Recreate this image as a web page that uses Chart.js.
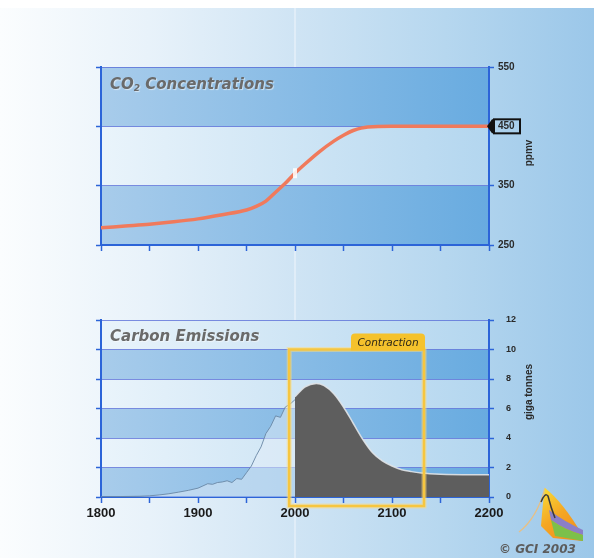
<!DOCTYPE html>
<html>
<head>
<meta charset="utf-8">
<script src="https://cdn.jsdelivr.net/npm/chart.js@4.4.1/dist/chart.umd.min.js"></script>
<style>
  html, body { margin: 0; padding: 0; background: #fff; }
  #wrap { position: relative; width: 603px; height: 558px; overflow: hidden; }
  #bg { position: absolute; left: 0; top: 8px; width: 594px; height: 550px;
        background: linear-gradient(to right, #fbfdfe 0%, #e8f2fa 25%, #cfe4f4 50%, #b6d7ef 75%, #9bc7e9 100%); }
  canvas.chart { position: absolute; left: 0; top: 0; }
  #line2000 { position: absolute; top: 8px; width: 2px; height: 550px; background: rgba(255,255,255,0.35); }
  .title { position: absolute; font-family: "DejaVu Sans", sans-serif; font-weight: bold; font-style: oblique;
           font-size: 15px; color: #6a6a6a; text-shadow: 1px 1px 1px rgba(255,255,255,0.55); white-space: nowrap; }
  .title sub { font-size: 9px; vertical-align: -2px; }
  .axt { position: absolute; font-family: "Liberation Sans", Arial, sans-serif; font-weight: bold; font-size: 10px;
         color: #2a2a2a; white-space: nowrap; transform: translate(-50%, -50%) rotate(-90deg); }
  #contraction { position: absolute; font-family: "DejaVu Sans", sans-serif; font-style: oblique; font-size: 10.5px;
                 color: #2e2818; white-space: nowrap; transform: translate(-50%, -50%); }
  #copy { position: absolute; left: 499px; top: 542px; font-family: "DejaVu Sans", sans-serif; font-weight: bold;
          font-style: oblique; font-size: 12px; color: #5c5c5c; white-space: nowrap; }
  #logo { position: absolute; left: 515px; top: 480px; }
</style>
</head>
<body>
<div id="wrap">
  <div id="bg"></div>
  <div id="line2000"></div>
  <canvas id="co2Chart" class="chart" width="603" height="558"></canvas>
  <canvas id="emChart" class="chart" width="603" height="558"></canvas>
  <div class="title" style="left:110px; top:75px;">CO<sub>2</sub> Concentrations</div>
  <div class="title" style="left:110px; top:327px;">Carbon Emissions</div>
  <div class="axt" style="left:528px; top:153px;">ppmv</div>
  <div class="axt" style="left:528px; top:392px;">giga tonnes</div>
  <div id="contraction">Contraction</div>
  <canvas id="logo" width="75" height="62"></canvas>
  <div id="copy">© GCI 2003</div>
</div>
<script>
// data
const co2Years  = [1800, 1825, 1850, 1875, 1900, 1925, 1950, 1960, 1970, 1980, 1990, 2000, 2010, 2025, 2040, 2050, 2060, 2075, 2100, 2150, 2200]
const co2Values = [279, 282, 285, 289, 294, 301, 309, 315, 324, 339, 354, 371, 386, 407, 425, 435, 443, 449, 450, 450, 450]
const co2Ticks  = [250, 350, 450, 550]
const co2Marker = 450

const histYears  = [1800, 1820, 1840, 1850, 1860, 1870, 1880, 1890, 1900, 1905, 1910, 1915, 1920, 1925, 1930, 1935, 1940, 1945, 1950, 1955, 1960, 1965, 1970, 1975, 1980, 1985, 1990, 1995, 2000]
const histValues = [0.02, 0.03, 0.05, 0.08, 0.14, 0.22, 0.33, 0.45, 0.6, 0.75, 0.9, 0.86, 0.98, 1.02, 1.1, 0.98, 1.25, 1.2, 1.65, 2.1, 2.8, 3.4, 4.3, 4.8, 5.5, 5.4, 6.1, 6.3, 6.6]
const projYears  = [2000, 2010, 2022, 2030, 2040, 2050, 2060, 2070, 2080, 2090, 2100, 2110, 2120, 2130, 2150, 2200]
const projValues = [6.8, 7.45, 7.7, 7.55, 7.0, 6.1, 5.0, 3.9, 3.0, 2.45, 2.1, 1.85, 1.72, 1.63, 1.55, 1.5]
const emTicks    = [0, 2, 4, 6, 8, 10, 12]

const yearTicks   = [1800, 1850, 1900, 1950, 2000, 2050, 2100, 2150, 2200]
const yearLabels  = [1800, 1900, 2000, 2100, 2200]
const contractionYears = [1994, 2133]
const contractionTop = 10
const highlightYear = 2000

const toPts = (xs, ys) => xs.map((x, i) => ({ x: x, y: ys[i] }))
const BLUE = '#2c64d8'

// alternating horizontal bands behind the plot
const bands = {
  id: 'bands',
  beforeDraw(chart, args, opts) {
    const { ctx, chartArea: a } = chart
    const y = chart.scales.y
    const lv = opts.levels
    for (let i = 0; i < lv.length - 1; i++) {
      const top = y.getPixelForValue(lv[i + 1])
      const bot = y.getPixelForValue(lv[i])
      const g = ctx.createLinearGradient(a.left, 0, a.right, 0)
      if (i % 2 === 0) { g.addColorStop(0, '#a8cceb'); g.addColorStop(1, '#68abe0') }
      else { g.addColorStop(0, '#eaf4fb'); g.addColorStop(1, '#b3d6ef') }
      ctx.fillStyle = g
      ctx.fillRect(a.left, top, a.right - a.left, bot - top)
    }
  }
}

function yearAxis(showLabels, height) {
  return {
    type: 'linear', min: 1800, max: 2200,
    afterBuildTicks: s => { s.ticks = yearTicks.map(v => ({ value: v })) },
    ticks: {
      display: showLabels, color: '#1a1a1a', padding: 3,
      font: { size: 13, weight: 'bold' },
      maxRotation: 0, autoSkip: false,
      callback: v => yearLabels.includes(v) ? String(v) : ''
    },
    grid: { drawOnChartArea: false, tickLength: 6, tickColor: BLUE, tickWidth: 1.5 },
    border: { color: BLUE, width: 2 },
    afterFit: s => { s.height = height }
  }
}

function valueAxes(min, max, levels, fontSize, pad) {
  const tk = s => { s.ticks = levels.map(v => ({ value: v })) }
  return {
    y: {
      position: 'right', min: min, max: max,
      afterBuildTicks: tk,
      ticks: { color: '#2a2a2a', padding: pad, font: { size: fontSize, weight: 'bold' } },
      grid: { color: 'rgba(85,105,215,0.75)', lineWidth: 1, tickLength: 5, tickColor: BLUE, tickWidth: 1.5 },
      border: { color: BLUE, width: 2 },
      afterFit: s => { s.width = 114 }
    },
    yl: {
      position: 'left', min: min, max: max,
      afterBuildTicks: tk,
      ticks: { display: false },
      grid: { drawOnChartArea: false, tickLength: 5, tickColor: BLUE, tickWidth: 1.5 },
      border: { color: BLUE, width: 2 },
      afterFit: s => { s.width = 6 }
    }
  }
}

Chart.defaults.font.family = '"Liberation Sans", Arial, sans-serif'
Chart.defaults.animation = false

// top chart: CO2 concentrations
const co2Scales = valueAxes(250, 550, co2Ticks, 10, 4)
co2Scales.x = yearAxis(false, 8)

new Chart(document.getElementById('co2Chart'), {
  type: 'line',
  data: {
    datasets: [{
      data: toPts(co2Years, co2Values),
      borderColor: '#f07a5c',
      borderWidth: 3.5,
      pointRadius: 0,
      cubicInterpolationMode: 'monotone'
    }]
  },
  options: {
    responsive: false,
    layout: { padding: { left: 95, right: 0, top: 67, bottom: 558 - 245 - 8 } },
    scales: co2Scales,
    plugins: { legend: { display: false }, tooltip: { enabled: false }, bands: { levels: co2Ticks } }
  },
  plugins: [bands, {
    id: 'co2extras',
    afterDatasetsDraw(chart) {
      const { ctx } = chart
      const hx = chart.scales.x.getPixelForValue(highlightYear)
      const hy = chart.scales.y.getPixelForValue(co2Values[co2Years.indexOf(highlightYear)])
      ctx.save()
      ctx.strokeStyle = 'rgba(255,255,255,0.85)'
      ctx.lineWidth = 4
      ctx.beginPath(); ctx.moveTo(hx, hy - 5); ctx.lineTo(hx, hy + 5); ctx.stroke()
      ctx.restore()
      document.getElementById('line2000').style.left = (hx - 1) + 'px'
    },
    afterDraw(chart) {
      const { ctx, chartArea: a } = chart
      const py = chart.scales.y.getPixelForValue(co2Marker)
      const bx = a.right
      ctx.save()
      ctx.fillStyle = '#111'
      ctx.beginPath()
      ctx.moveTo(bx - 2, py); ctx.lineTo(bx + 3, py - 7); ctx.lineTo(bx + 6, py - 7)
      ctx.lineTo(bx + 6, py + 7); ctx.lineTo(bx + 3, py + 7); ctx.closePath(); ctx.fill()
      ctx.strokeStyle = '#111'
      ctx.lineWidth = 2
      ctx.strokeRect(bx + 5, py - 7, 26, 14)
      ctx.restore()
    }
  }]
})

// bottom chart: carbon emissions
const emScales = valueAxes(0, 12, emTicks, 9, 12)
emScales.x = yearAxis(true, 30)

new Chart(document.getElementById('emChart'), {
  type: 'line',
  data: {
    datasets: [{
      data: toPts(histYears, histValues),
      borderColor: 'rgba(105,135,165,0.9)',
      borderWidth: 1,
      backgroundColor: 'rgba(228,238,247,0.5)',
      fill: 'origin',
      pointRadius: 0,
      tension: 0
    }, {
      data: toPts(projYears, projValues),
      borderColor: 'rgba(225,228,232,0.9)',
      borderWidth: 1.5,
      backgroundColor: '#5e5e5e',
      fill: 'origin',
      pointRadius: 0,
      cubicInterpolationMode: 'monotone'
    }]
  },
  options: {
    responsive: false,
    layout: { padding: { left: 95, right: 0, top: 320, bottom: 558 - 497 - 30 } },
    scales: emScales,
    plugins: { legend: { display: false }, tooltip: { enabled: false }, bands: { levels: emTicks } }
  },
  plugins: [bands, {
    id: 'contraction',
    afterDatasetsDraw(chart) {
      const { ctx, chartArea: a } = chart
      const x1 = chart.scales.x.getPixelForValue(contractionYears[0])
      const x2 = chart.scales.x.getPixelForValue(contractionYears[1])
      const y1 = chart.scales.y.getPixelForValue(contractionTop)
      const y2 = a.bottom + 9
      ctx.save()
      ctx.strokeStyle = 'rgba(255,220,120,0.5)'
      ctx.lineWidth = 5
      ctx.strokeRect(x1, y1, x2 - x1, y2 - y1)
      ctx.strokeStyle = '#f6c640'
      ctx.lineWidth = 2.5
      ctx.strokeRect(x1, y1, x2 - x1, y2 - y1)
      // tab for the label
      const tw = 74, th = 16
      ctx.fillStyle = '#f5c22c'
      ctx.beginPath()
      ctx.roundRect(x2 - tw + 1, y1 - th, tw, th + 1, [4, 4, 0, 0])
      ctx.fill()
      ctx.restore()
      const lab = document.getElementById('contraction')
      lab.style.left = (x2 - tw / 2 + 1) + 'px'
      lab.style.top = (y1 - th / 2) + 'px'
    }
  }]
})

// small GCI logo
const lg = document.getElementById('logo').getContext('2d')
lg.lineWidth = 1.2
lg.strokeStyle = 'rgba(240,190,120,0.9)'
lg.beginPath(); lg.moveTo(4, 52); lg.quadraticCurveTo(22, 38, 30, 8); lg.stroke()
let g = lg.createLinearGradient(25, 5, 68, 60)
g.addColorStop(0, '#f8e43a'); g.addColorStop(0.5, '#f5a623'); g.addColorStop(1, '#f08a1c')
lg.fillStyle = g
lg.beginPath(); lg.moveTo(26, 46); lg.quadraticCurveTo(28, 20, 30, 8)
lg.quadraticCurveTo(48, 22, 68, 56); lg.lineTo(68, 61); lg.lineTo(38, 58); lg.closePath(); lg.fill()
lg.fillStyle = '#8b7fc8'
lg.beginPath(); lg.moveTo(34, 30); lg.quadraticCurveTo(50, 42, 68, 50); lg.lineTo(68, 55)
lg.quadraticCurveTo(50, 50, 36, 40); lg.closePath(); lg.fill()
lg.fillStyle = '#7cc04a'
lg.beginPath(); lg.moveTo(36, 40); lg.quadraticCurveTo(50, 50, 68, 55); lg.lineTo(68, 61)
lg.lineTo(40, 56); lg.closePath(); lg.fill()
lg.strokeStyle = '#3a3a3a'; lg.lineWidth = 1.5
lg.beginPath(); lg.moveTo(26, 22); lg.quadraticCurveTo(30, 12, 33, 16); lg.quadraticCurveTo(36, 28, 40, 38); lg.stroke()
</script>
</body>
</html>
